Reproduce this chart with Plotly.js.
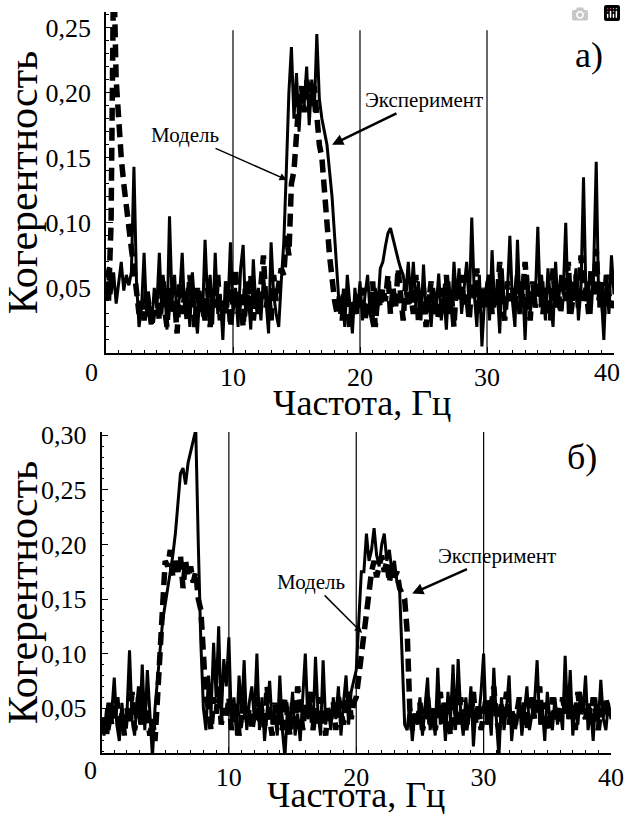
<!DOCTYPE html>
<html>
<head>
<meta charset="utf-8">
<script src="https://cdn.plot.ly/plotly-3.0.1.min.js"></script>
</head>
<body style="margin:0">
<div id="chart" style="width:626px;height:816px"></div>
<script>
// Frequency grid (Hz), 0.2 Hz step from 0 to 40
const freqStep = 0.2;
const freqCount = 201;
const freq = Array.from({length: freqCount}, (_, i) => +(i * freqStep).toFixed(1));

// Panel a) — "Модель" (solid)
const topModel = [
0.058,0.066,0.045,0.062,0.038,0.055,0.070,0.048,0.060,0.052,
0.062,0.143,0.055,0.020,0.035,0.077,0.028,0.040,0.022,0.050,
0.035,0.077,0.030,0.055,0.018,0.105,0.040,0.060,0.025,0.045,
0.077,0.030,0.050,0.020,0.062,0.035,0.015,0.048,0.028,0.087,
0.040,0.060,0.022,0.077,0.030,0.045,0.010,0.055,0.035,0.085,
0.030,0.050,0.020,0.065,0.083,0.028,0.045,0.018,0.072,0.035,
0.050,0.025,0.060,0.040,0.015,0.085,0.045,0.030,0.020,0.055,
0.085,0.140,0.200,0.235,0.180,0.215,0.170,0.205,0.190,0.220,
0.175,0.210,0.185,0.245,0.195,0.180,0.170,0.160,0.140,0.120,
0.090,0.055,0.030,0.045,0.020,0.060,0.035,0.015,0.050,0.030,
0.055,0.025,0.045,0.060,0.030,0.020,0.050,0.035,0.065,0.070,
0.082,0.092,0.096,0.088,0.078,0.072,0.065,0.060,0.045,0.070,
0.040,0.070,0.035,0.055,0.025,0.068,0.030,0.045,0.020,0.050,
0.035,0.061,0.025,0.045,0.018,0.055,0.030,0.070,0.040,0.065,
0.030,0.050,0.070,0.035,0.104,0.045,0.020,0.060,0.005,0.040,
0.055,0.025,0.079,0.035,0.050,0.015,0.065,0.030,0.045,0.090,
0.040,0.020,0.087,0.035,0.055,0.010,0.060,0.030,0.050,0.040,
0.097,0.035,0.055,0.025,0.065,0.040,0.020,0.070,0.035,0.060,
0.045,0.100,0.030,0.055,0.040,0.065,0.025,0.050,0.135,0.040,
0.055,0.030,0.065,0.147,0.035,0.045,0.010,0.060,0.030,0.075,
0.045];

// Panel a) — "Эксперимент" (dashed)
const topExp = [
0.055,0.040,0.100,0.300,0.210,0.175,0.150,0.130,0.110,0.095,
0.080,0.065,0.045,0.030,0.040,0.025,0.050,0.030,0.020,0.035,
0.045,0.025,0.060,0.035,0.020,0.050,0.030,0.040,0.015,0.055,
0.030,0.045,0.025,0.060,0.035,0.020,0.050,0.030,0.040,0.025,
0.050,0.020,0.045,0.035,0.060,0.025,0.040,0.030,0.055,0.020,
0.040,0.065,0.030,0.045,0.020,0.055,0.035,0.060,0.025,0.045,
0.030,0.050,0.075,0.035,0.045,0.025,0.060,0.040,0.050,0.065,
0.060,0.090,0.075,0.130,0.140,0.165,0.195,0.205,0.185,0.210,
0.200,0.190,0.205,0.175,0.160,0.150,0.130,0.100,0.075,0.055,
0.040,0.030,0.045,0.025,0.050,0.035,0.020,0.040,0.030,0.045,
0.035,0.050,0.025,0.040,0.030,0.055,0.020,0.045,0.035,0.050,
0.040,0.060,0.030,0.050,0.035,0.065,0.040,0.025,0.055,0.035,
0.045,0.030,0.060,0.025,0.040,0.050,0.020,0.035,0.055,0.030,
0.040,0.025,0.050,0.035,0.060,0.030,0.045,0.020,0.055,0.040,
0.060,0.035,0.045,0.025,0.055,0.040,0.065,0.030,0.050,0.035,
0.045,0.060,0.030,0.050,0.040,0.070,0.035,0.025,0.055,0.040,
0.050,0.035,0.060,0.030,0.045,0.070,0.040,0.025,0.055,0.035,
0.045,0.060,0.030,0.050,0.040,0.025,0.065,0.035,0.050,0.030,
0.055,0.040,0.070,0.030,0.045,0.060,0.035,0.075,0.040,0.050,
0.030,0.065,0.045,0.080,0.040,0.055,0.030,0.060,0.045,0.035,
0.040];

// Panel б) — "Модель" (solid)
const botModel = [
0.035,0.025,0.050,0.030,0.045,0.078,0.035,0.020,0.055,0.030,
0.045,0.103,0.040,0.025,0.060,0.035,0.090,0.030,0.085,0.045,
0.005,0.050,0.075,0.100,0.130,0.145,0.160,0.172,0.190,0.210,
0.235,0.265,0.270,0.255,0.275,0.285,0.295,0.305,0.200,0.110,
0.050,0.030,0.080,0.045,0.110,0.060,0.125,0.040,0.095,0.070,
0.115,0.035,0.060,0.025,0.080,0.045,0.094,0.030,0.055,0.070,
0.040,0.100,0.030,0.060,0.020,0.050,0.075,0.035,0.045,0.025,
0.080,0.030,0.005,0.050,0.035,0.065,0.025,0.045,0.020,0.060,
0.100,0.040,0.055,0.030,0.097,0.045,0.025,0.094,0.035,0.050,
0.030,0.060,0.040,0.070,0.025,0.055,0.080,0.035,0.065,0.075,
0.085,0.130,0.175,0.175,0.210,0.185,0.195,0.215,0.190,0.180,
0.200,0.210,0.185,0.195,0.175,0.185,0.165,0.160,0.090,0.035,
0.030,0.055,0.020,0.045,0.035,0.060,0.025,0.050,0.078,0.030,
0.045,0.025,0.087,0.035,0.055,0.020,0.065,0.040,0.090,0.030,
0.095,0.045,0.025,0.060,0.035,0.070,0.015,0.050,0.040,0.065,
0.100,0.035,0.055,0.025,0.087,0.040,0.005,0.060,0.030,0.050,
0.080,0.020,0.045,0.035,0.060,0.025,0.050,0.070,0.030,0.045,
0.055,0.094,0.035,0.050,0.020,0.065,0.040,0.030,0.060,0.035,
0.050,0.030,0.098,0.040,0.085,0.025,0.055,0.035,0.065,0.045,
0.080,0.030,0.050,0.020,0.060,0.035,0.076,0.040,0.030,0.055,
0.040];

// Panel б) — "Эксперимент" (dashed)
const botExp = [
0.030,0.045,0.025,0.055,0.035,0.040,0.060,0.030,0.045,0.025,
0.050,0.035,0.065,0.030,0.045,0.070,0.035,0.055,0.040,0.025,
0.040,0.020,0.060,0.100,0.150,0.185,0.180,0.195,0.170,0.185,
0.175,0.190,0.160,0.185,0.170,0.180,0.165,0.175,0.150,0.140,
0.100,0.060,0.050,0.030,0.060,0.045,0.070,0.035,0.050,0.040,
0.060,0.030,0.045,0.055,0.025,0.040,0.060,0.035,0.050,0.030,
0.045,0.060,0.035,0.050,0.030,0.070,0.040,0.025,0.055,0.035,
0.050,0.030,0.060,0.040,0.025,0.055,0.035,0.070,0.045,0.030,
0.055,0.040,0.065,0.030,0.050,0.035,0.060,0.045,0.025,0.050,
0.040,0.055,0.030,0.060,0.045,0.035,0.050,0.065,0.040,0.055,
0.060,0.080,0.100,0.120,0.140,0.160,0.175,0.185,0.170,0.180,
0.190,0.175,0.185,0.165,0.180,0.170,0.175,0.160,0.155,0.150,
0.120,0.050,0.030,0.045,0.035,0.055,0.030,0.040,0.060,0.035,
0.050,0.030,0.045,0.065,0.035,0.055,0.040,0.025,0.060,0.045,
0.035,0.060,0.045,0.030,0.050,0.040,0.065,0.035,0.055,0.030,
0.045,0.060,0.035,0.050,0.070,0.040,0.030,0.055,0.045,0.065,
0.035,0.050,0.030,0.045,0.060,0.040,0.055,0.030,0.045,0.060,
0.040,0.050,0.070,0.035,0.055,0.045,0.030,0.060,0.040,0.050,
0.035,0.060,0.045,0.070,0.040,0.055,0.030,0.065,0.045,0.050,
0.040,0.055,0.035,0.060,0.045,0.030,0.050,0.040,0.060,0.045,
0.050];

const topXTicks = [10, 20, 30];
const botXTicks = [10, 20, 30, 40];
const topYTicks = [0.05, 0.10, 0.15, 0.20, 0.25];
const topYText = ['0,05', '0,10', '0,15', '0,20', '0,25'];
const botYTicks = [0.05, 0.10, 0.15, 0.20, 0.25, 0.30];
const botYText = ['0,05', '0,10', '0,15', '0,20', '0,25', '0,30'];
const markerLines = [10, 20, 30];
const yTitle = 'Когерентность';
const xTitle = 'Частота, Гц';
const modelName = 'Модель';
const expName = 'Эксперимент';

function tf(size) { return {family: 'Liberation Serif', size: size, color: '#000'}; }

const traces = [
  {x: freq, y: topModel, xaxis: 'x', yaxis: 'y', mode: 'lines', name: modelName, line: {color: '#000', width: 3}},
  {x: freq, y: topExp, xaxis: 'x', yaxis: 'y', mode: 'lines', name: expName, line: {color: '#000', width: 5.5, dash: '13px,7px'}},
  {x: freq, y: botModel, xaxis: 'x2', yaxis: 'y2', mode: 'lines', name: modelName, line: {color: '#000', width: 3}},
  {x: freq, y: botExp, xaxis: 'x2', yaxis: 'y2', mode: 'lines', name: expName, line: {color: '#000', width: 5.5, dash: '13px,7px'}}
];

function xAxis(domain, anchor, ticks) {
  return {
    domain: domain, anchor: anchor, range: [0, 40],
    tickvals: ticks, ticks: 'inside', ticklen: 6, tickwidth: 1.2, tickcolor: '#000',
    minor: {dtick: 1, tick0: 0, ticks: 'inside', ticklen: 3, tickcolor: '#000', tickwidth: 1},
    showline: true, linecolor: '#000', linewidth: 1.5, showgrid: false, zeroline: false,
    tickfont: tf(26), ticklabelstandoff: 0,
    automargin: false, fixedrange: true
  };
}
function yAxis(domain, anchor, range, ticks, labels) {
  return {
    domain: domain, anchor: anchor, range: range,
    tickvals: ticks, ticktext: labels, ticks: 'inside', ticklen: 7, tickwidth: 1.2, tickcolor: '#000',
    minor: {dtick: 0.01, tick0: 0, ticks: 'inside', ticklen: 3, tickcolor: '#000', tickwidth: 1},
    showline: true, linecolor: '#000', linewidth: 1.5, showgrid: false, zeroline: false,
    tickfont: tf(26), ticklabelstandoff: 8,
    title: {text: yTitle, font: tf(42), standoff: 2},
    automargin: false, fixedrange: true
  };
}

const shapes = [];
markerLines.forEach(v => {
  shapes.push({type: 'line', xref: 'x', yref: 'y', x0: v, x1: v, y0: 0, y1: 0.248, line: {color: '#000', width: 1.2}});
  shapes.push({type: 'line', xref: 'x2', yref: 'y2 domain', x0: v, x1: v, y0: 0, y1: 1, line: {color: '#000', width: 1.2}});
});

const annotations = [
  {xref: 'x', yref: 'y', x: 14.25, y: 0.133, text: modelName, showarrow: true, ax: -102, ay: -45,
   arrowhead: 2, arrowsize: 1, arrowwidth: 1.5, arrowcolor: '#000', font: tf(21)},
  {xref: 'x', yref: 'y', x: 17.8, y: 0.16, text: expName, showarrow: true, ax: 92, ay: -45,
   arrowhead: 2, arrowsize: 0.9, arrowwidth: 2.5, arrowcolor: '#000', font: tf(21)},
  {xref: 'x2', yref: 'y2', x: 20.46, y: 0.119, text: modelName, showarrow: true, ax: -51, ay: -51,
   arrowhead: 2, arrowsize: 1, arrowwidth: 1.5, arrowcolor: '#000', font: tf(21)},
  {xref: 'x2', yref: 'y2', x: 24.39, y: 0.155, text: expName, showarrow: true, ax: 85, ay: -38,
   arrowhead: 2, arrowsize: 0.9, arrowwidth: 2.5, arrowcolor: '#000', font: tf(21)},
  {xref: 'paper', yref: 'paper', x: 589 / 626, y: 1 - 55 / 816, xanchor: 'center', yanchor: 'middle',
   text: 'а)', showarrow: false, font: tf(36)},
  {xref: 'paper', yref: 'paper', x: 582 / 626, y: 1 - 457 / 816, xanchor: 'center', yanchor: 'middle',
   text: 'б)', showarrow: false, font: tf(36)},
  {xref: 'paper', yref: 'paper', x: 91 / 626, y: 1 - 373 / 816, xanchor: 'center', yanchor: 'middle',
   text: '0', showarrow: false, font: tf(26)},
  {xref: 'paper', yref: 'paper', x: 607 / 626, y: 1 - 373 / 816, xanchor: 'center', yanchor: 'middle',
   text: '40', showarrow: false, font: tf(26)},
  {xref: 'paper', yref: 'paper', x: 90 / 626, y: 1 - 770 / 816, xanchor: 'center', yanchor: 'middle',
   text: '0', showarrow: false, font: tf(26)},
  {xref: 'paper', yref: 'paper', x: 362 / 626, y: 1 - 403 / 816, xanchor: 'center', yanchor: 'middle',
   text: xTitle, showarrow: false, font: tf(36)},
  {xref: 'paper', yref: 'paper', x: 356 / 626, y: 1 - 795 / 816, xanchor: 'center', yanchor: 'middle',
   text: xTitle, showarrow: false, font: tf(36)}
];

const layout = {
  width: 626, height: 816,
  margin: {l: 0, r: 0, t: 0, b: 0},
  paper_bgcolor: '#fff', plot_bgcolor: '#fff',
  showlegend: false,
  xaxis: xAxis([106 / 626, 614 / 626], 'y', topXTicks),
  yaxis: yAxis([1 - 353 / 816, 1 - 12 / 816], 'x', [0, 0.262], topYTicks, topYText),
  xaxis2: xAxis([101.5 / 626, 611 / 626], 'y2', botXTicks),
  yaxis2: yAxis([1 - 753 / 816, 1 - 432 / 816], 'x2', [0.009, 0.303], botYTicks, botYText),
  shapes: shapes,
  annotations: annotations
};

Plotly.newPlot('chart', traces, layout);
</script>
</body>
</html>
